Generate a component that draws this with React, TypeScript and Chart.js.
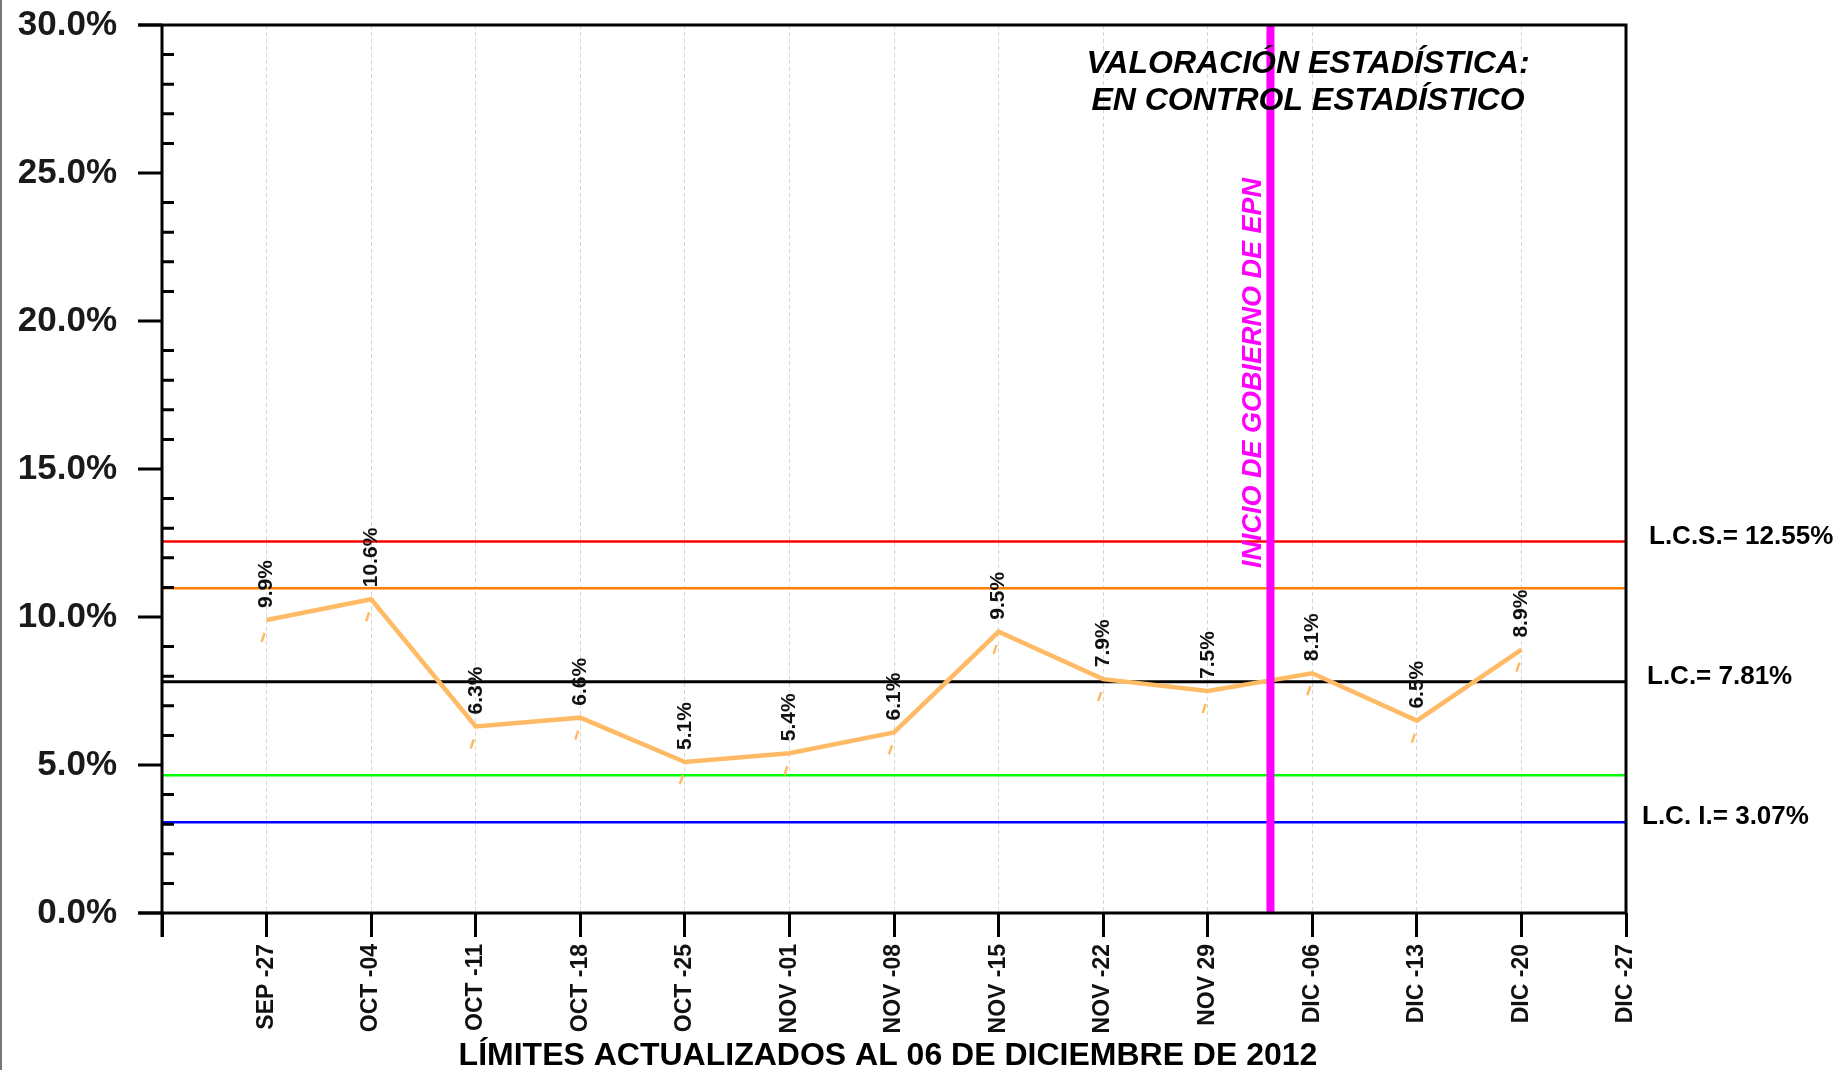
import React, { useEffect, useRef } from 'react';
import { Chart, registerables } from 'chart.js';

Chart.register(...registerables);

// ---- data ----
const CATEGORIES = ['SEP -27', 'OCT -04', 'OCT -11', 'OCT -18', 'OCT -25', 'NOV -01', 'NOV -08', 'NOV -15', 'NOV -22', 'NOV 29', 'DIC -06', 'DIC -13', 'DIC -20', 'DIC -27'];
const X_LABELS = ['', ...CATEGORIES];
const VALUE_WEEKS = ['SEP -27', 'OCT -04', 'OCT -11', 'OCT -18', 'OCT -25', 'NOV -01', 'NOV -08', 'NOV -15', 'NOV -22', 'NOV 29', 'DIC -06', 'DIC -13', 'DIC -20'];
const VALUES = [9.9, 10.6, 6.3, 6.6, 5.1, 5.4, 6.1, 9.5, 7.9, 7.5, 8.1, 6.5, 8.9];
const LIMIT_VALUES = [12.55, 10.97, 7.81, 4.65, 3.07];
const LIMIT_COLORS = ['#FF0000', '#FF8000', '#000000', '#00FF00', '#0000FF'];
const LIMIT_TEXTS = ['L.C.S.= 12.55%', '', 'L.C.= 7.81%', '', 'L.C. I.= 3.07%'];
const Y_MIN = 0;
const Y_MAX = 30;
const Y_MAJOR_STEP = 5;
const Y_MINOR_STEP = 1;
const EVENT_POSITION = 10.6; // between NOV 29 and DIC -06
const EVENT_LABEL = 'INICIO DE GOBIERNO DE EPN';
const NOTE_LINES = ['VALORACIÓN ESTADÍSTICA:', 'EN CONTROL ESTADÍSTICO'];
const X_TITLE = 'LÍMITES ACTUALIZADOS AL 06 DE DICIEMBRE DE 2012';

const FONT = '"Liberation Sans", Arial, Helvetica, sans-serif';
const LINE_COLOR = '#FFBA66';

const decorPlugin = {
  id: 'decor',
  beforeDatasetsDraw(chart: any) {
    const { ctx, chartArea, scales } = chart;
    const y = scales.y;
    ctx.save();
    LIMIT_VALUES.forEach((v, i) => {
      const py = y.getPixelForValue(v);
      ctx.beginPath();
      ctx.strokeStyle = LIMIT_COLORS[i];
      ctx.lineWidth = i === 2 ? 3 : 2.5;
      ctx.moveTo(chartArea.left, py);
      ctx.lineTo(chartArea.right, py);
      ctx.stroke();
    });
    ctx.restore();
  },
  afterDatasetsDraw(chart: any) {
    const { ctx, chartArea, scales } = chart;
    const meta = chart.getDatasetMeta(0);
    ctx.save();
    // small slanted marks under each point
    meta.data.forEach((pt: any) => {
      ctx.beginPath();
      ctx.strokeStyle = LINE_COLOR;
      ctx.lineWidth = 2.5;
      ctx.moveTo(pt.x - 2, pt.y + 13);
      ctx.lineTo(pt.x - 5, pt.y + 22);
      ctx.stroke();
    });
    // value labels
    ctx.fillStyle = '#111';
    ctx.font = `bold 21px ${FONT}`;
    ctx.textAlign = 'left';
    ctx.textBaseline = 'middle';
    meta.data.forEach((pt: any, i: number) => {
      ctx.save();
      ctx.translate(pt.x, pt.y - 12);
      ctx.rotate(-Math.PI / 2);
      ctx.fillText(VALUES[i].toFixed(1) + '%', 0, 0);
      ctx.restore();
    });
    // event line
    const ex = scales.x.getPixelForValue(EVENT_POSITION);
    ctx.beginPath();
    ctx.strokeStyle = '#FF00FF';
    ctx.lineWidth = 8;
    ctx.moveTo(ex, chartArea.top);
    ctx.lineTo(ex, chartArea.bottom);
    ctx.stroke();
    // event label
    ctx.save();
    ctx.fillStyle = '#FF00FF';
    ctx.font = `italic bold 27px ${FONT}`;
    ctx.textAlign = 'left';
    ctx.textBaseline = 'alphabetic';
    ctx.translate(ex - 9, chartArea.top + 543);
    ctx.rotate(-Math.PI / 2);
    ctx.fillText(EVENT_LABEL, 0, 0);
    ctx.restore();
    // note
    ctx.fillStyle = '#000';
    ctx.font = `italic bold 32px ${FONT}`;
    ctx.textAlign = 'center';
    ctx.textBaseline = 'alphabetic';
    ctx.fillText(NOTE_LINES[0], 1308, 73);
    ctx.fillText(NOTE_LINES[1], 1308, 110);
    ctx.restore();
  },
  afterDraw(chart: any) {
    const { ctx, chartArea, scales } = chart;
    const { left, right, top, bottom } = chartArea;
    const y = scales.y;
    ctx.save();
    ctx.strokeStyle = '#000';
    ctx.lineWidth = 3;
    ctx.lineCap = 'butt';
    // box
    ctx.beginPath();
    ctx.moveTo(left - 24, top);
    ctx.lineTo(right, top);
    ctx.moveTo(right, top - 1.5);
    ctx.lineTo(right, bottom + 1.5);
    ctx.moveTo(left - 24, bottom);
    ctx.lineTo(right, bottom);
    ctx.moveTo(left, top - 1.5);
    ctx.lineTo(left, bottom + 24);
    ctx.stroke();
    // y ticks
    ctx.beginPath();
    for (let v = Y_MIN; v <= Y_MAX; v += Y_MINOR_STEP) {
      const py = y.getPixelForValue(v);
      if (v % Y_MAJOR_STEP === 0) {
        ctx.moveTo(left - 24, py);
        ctx.lineTo(left, py);
      } else {
        ctx.moveTo(left, py);
        ctx.lineTo(left + 12, py);
      }
    }
    ctx.stroke();
    // limit texts
    ctx.fillStyle = '#000';
    ctx.font = `bold 26px ${FONT}`;
    ctx.textAlign = 'left';
    ctx.textBaseline = 'middle';
    const offs = [23, 0, 21, 0, 16];
    LIMIT_VALUES.forEach((v, i) => {
      if (!LIMIT_TEXTS[i]) return;
      ctx.fillText(LIMIT_TEXTS[i], right + offs[i], y.getPixelForValue(v) - 5);
    });
    // x title
    ctx.font = `bold 32px ${FONT}`;
    ctx.textAlign = 'center';
    ctx.textBaseline = 'alphabetic';
    ctx.fillText(X_TITLE, 888, 1065);
    // left image edge
    ctx.fillStyle = '#777';
    ctx.fillRect(0, 0, 2, chart.height);
    ctx.restore();
  },
};

export default function App() {
  const ref = useRef<HTMLCanvasElement>(null);
  useEffect(() => {
    if (!ref.current) return;
    const chart = new Chart(ref.current, {
      type: 'line',
      data: {
        labels: X_LABELS,
        datasets: [
          {
            data: VALUES.map((v, i) => ({ x: VALUE_WEEKS[i], y: v })) as any,
            borderColor: LINE_COLOR,
            borderWidth: 4.5,
            pointRadius: 0,
            tension: 0,
            fill: false,
          },
        ],
      },
      options: {
        responsive: false,
        animation: false,
        devicePixelRatio: 1,
        layout: { padding: { left: 0, top: 25, right: 217, bottom: 0 } },
        plugins: { legend: { display: false }, tooltip: { enabled: false } },
        scales: {
          x: {
            type: 'category',
            offset: false,
            afterFit: (s: any) => {
              s.height = 157;
              s.paddingLeft = 0;
              s.paddingRight = 0;
            },
            grid: {
              color: '#d6d6d6',
              lineWidth: 1,
              drawTicks: true,
              tickLength: 24,
              tickWidth: 3,
              tickColor: '#000',
            },
            border: { display: false, dash: [4, 3] },
            ticks: {
              autoSkip: false,
              maxRotation: 90,
              minRotation: 90,
              padding: 7,
              color: '#111',
              font: { family: FONT, size: 23, weight: 'bold' },
            },
          },
          y: {
            min: Y_MIN,
            max: Y_MAX,
            afterFit: (s: any) => {
              s.width = 162;
              s.paddingTop = 0;
              s.paddingBottom = 0;
            },
            grid: { display: false, drawTicks: false },
            border: { display: false },
            ticks: {
              stepSize: Y_MAJOR_STEP,
              padding: 45,
              color: '#1a1a1a',
              font: { family: FONT, size: 35, weight: 'bold' },
              callback: (v: any) => Number(v).toFixed(1) + '%',
            },
          },
        },
      },
      plugins: [decorPlugin],
    });
    return () => chart.destroy();
  }, []);
  return (
    <div style={{ position: 'absolute', left: 0, top: 0, width: 1843, height: 1070, background: '#fff' }}>
      <canvas ref={ref} width={1843} height={1070} style={{ display: 'block' }} />
    </div>
  );
}
